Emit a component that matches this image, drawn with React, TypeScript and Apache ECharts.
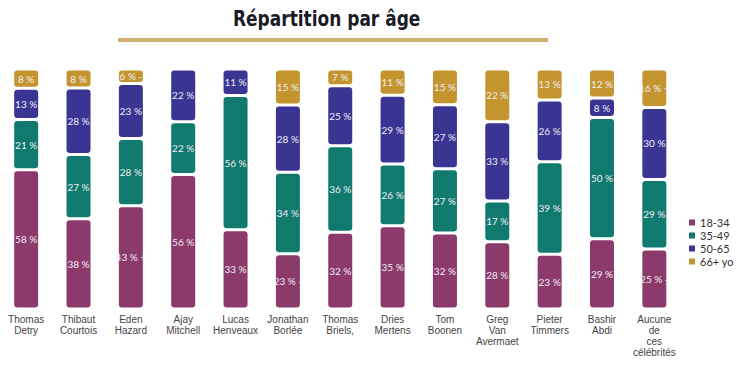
import React, { useEffect, useRef } from "react";
import * as echarts from "echarts";

const categories = [
  "Thomas\nDetry",
  "Thibaut\nCourtois",
  "Eden\nHazard",
  "Ajay\nMitchell",
  "Lucas\nHenveaux",
  "Jonathan\nBorlée",
  "Thomas\nBriels,",
  "Dries\nMertens",
  "Tom\nBoonen",
  "Greg\nVan\nAvermaet",
  "Pieter\nTimmers",
  "Bashir\nAbdi",
  "Aucune\nde\nces\ncélébrités",
];

const seriesNames = ["18-34", "35-49", "50-65", "66+ yo"];

const age1834 = [58, 38, 43, 56, 33, 23, 32, 35, 32, 28, 23, 29, 25];
const age3549 = [21, 27, 28, 22, 56, 34, 36, 26, 27, 17, 39, 50, 29];
const age5065 = [13, 28, 23, 22, 11, 28, 25, 29, 27, 33, 26, 8, 30];
const age66 = [8, 8, 6, null, null, 15, 7, 11, 15, 22, 13, 12, 16];

// rounding marks shown after some labels
const mark1834 = ["", "", "+", "", "", "-", "", "", "", "", "", "", "-"];
const mark3549 = ["", "", "", "", "", "", "", "", "", "", "", "", ""];
const mark5065 = ["", "", "", "", "", "", "", "", "", "", "", "", ""];
const mark66 = ["", "", "-", "", "", "", "", "", "", "", "", "", "+"];

const colors = ["#8B3A6B", "#117A6E", "#3A3593", "#C4952F"];

export default function App() {
  const ref = useRef<HTMLDivElement>(null);

  useEffect(() => {
    document.body.style.margin = "0";
    if (!ref.current) return;
    const chart = echarts.init(ref.current, undefined, { renderer: "svg" });

    const raw = [age1834, age3549, age5065, age66];
    const marks = [mark1834, mark3549, mark5065, mark66];
    const totals = categories.map((_, i) =>
      raw.reduce((s, arr) => s + ((arr[i] as number) || 0), 0)
    );

    const series = raw.map((arr, si) => ({
      name: seriesNames[si],
      type: "bar",
      stack: "total",
      barWidth: 27,
      data: arr.map((v, i) =>
        v == null ? null : ((v as number) / totals[i]) * 100
      ),
      itemStyle: {
        color: colors[si],
        borderColor: "#ffffff",
        borderWidth: 1.5,
        borderRadius: 4,
      },
      label: {
        show: true,
        position: "inside",
        color: "#f2eef6",
        fontSize: 10,
        fontFamily: "Lato, sans-serif",
        formatter: (p: any) => {
          const v = arr[p.dataIndex];
          if (v == null) return "";
          const m = marks[si][p.dataIndex];
          return v + " %" + (m ? " " + m : "");
        },
      },
    }));

    chart.setOption({
      animation: false,
      backgroundColor: "#ffffff",
      grid: { left: -2, top: 69, width: 682.5, height: 240 },
      xAxis: {
        type: "category",
        data: categories,
        axisLine: { show: false },
        axisTick: { show: false },
        axisLabel: {
          interval: 0,
          margin: 5,
          fontSize: 10,
          lineHeight: 11,
          color: "#444444",
          fontFamily: "'Liberation Sans', Arial, sans-serif",
        },
      },
      yAxis: {
        type: "value",
        min: 0,
        max: 100,
        show: false,
      },
      legend: {
        orient: "vertical",
        left: 682,
        top: 212,
        icon: "rect",
        itemWidth: 8,
        itemHeight: 8,
        itemGap: 2,
        textStyle: {
          fontSize: 11,
          color: "#333333",
          fontFamily: "Lato, sans-serif",
          padding: [0, 0, 0, -1],
        },
        data: seriesNames,
      },
      graphic: [
        {
          type: "text",
          x: 233,
          y: 8,
          scaleX: 0.81,
          style: {
            text: "Répartition par âge",
            fontSize: 21,
            fontWeight: "bold",
            fontFamily: "'DejaVu Sans', sans-serif",
            fill: "#1b1b26",
          },
        },
        {
          type: "rect",
          shape: { x: 118, y: 38, width: 430, height: 4 },
          style: { fill: "#CFAF6F" },
        },
      ],
      series,
    });

    return () => chart.dispose();
  }, []);

  return <div ref={ref} style={{ width: 737, height: 365 }} />;
}
